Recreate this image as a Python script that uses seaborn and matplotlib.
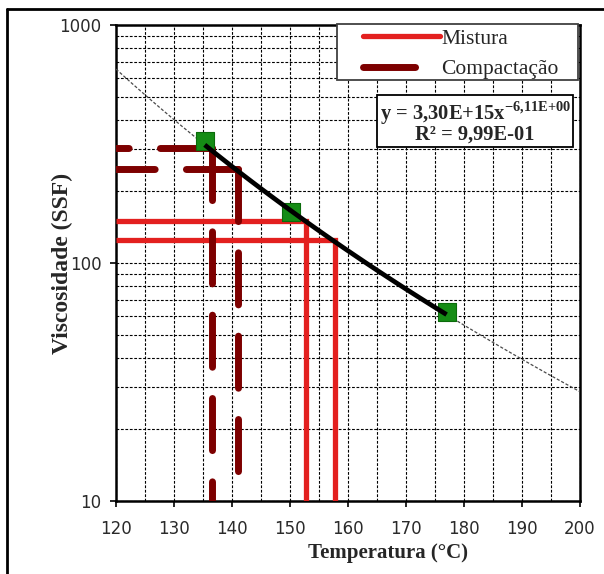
import numpy as np
import pandas as pd
import matplotlib
matplotlib.use("Agg")
import matplotlib.pyplot as plt
from matplotlib.lines import Line2D
from matplotlib.patches import Rectangle
from matplotlib.legend_handler import HandlerLine2D
from matplotlib.ticker import FixedLocator, FixedFormatter, NullFormatter
import seaborn as sns

# Viscosity measurements (Saybolt-Furol seconds) versus temperature
temperatura = [135.3, 150.2, 177.0]
viscosidade = [325, 164, 62]

# Power-law trendline  y = a * x^b
coef_a = 3.30e15
coef_b = -6.11
r_quadrado = 0.999

# Viscosity limits and the temperatures read on the curve
mistura_visc = [150, 125]
mistura_temp = [152.7, 157.7]
compact_visc = [305, 248]
compact_temp = [136.5, 141.1]

x_ticks = [120, 130, 140, 150, 160, 170, 180, 190, 200]
x_minor = [125, 135, 145, 155, 165, 175, 185, 195]
y_ticks = [10, 100, 1000]
y_labels = ["10", "100", "1000"]

RED = "#e3201f"
DARK_RED = "#7d0000"
GREEN = "#158c15"

sns.set_theme(style="white")
plt.rcParams["font.family"] = ["DejaVu Sans"]
plt.rcParams["mathtext.fontset"] = "custom"
plt.rcParams["mathtext.rm"] = "Liberation Serif"
plt.rcParams["mathtext.bf"] = "Liberation Serif:bold"

W, H = 604, 574
fig = plt.figure(figsize=(W / 100, H / 100), dpi=100)
ax = fig.add_axes([116 / W, 1 - 501 / H, 464 / W, 476 / H])

# Trendline over the whole axis (thin dashed) and over the data range (thick)
xs_full = np.linspace(120, 200, 200)
trend_full = pd.DataFrame({"T": xs_full, "V": coef_a * xs_full ** coef_b})
xs_data = np.linspace(min(temperatura), max(temperatura), 100)
trend_data = pd.DataFrame({"T": xs_data, "V": coef_a * xs_data ** coef_b})

sns.lineplot(data=trend_full, x="T", y="V", ax=ax, color="#4a4a4a", lw=0.9,
             linestyle=(0, (2.5, 1.5)), zorder=3)

# Mixing limits: solid red L-shaped guides
for v, t in zip(mistura_visc, mistura_temp):
    ax.plot([120, t, t], [v, v, 10], color=RED, lw=3.8, solid_joinstyle="miter",
            solid_capstyle="butt", zorder=4)

# Compaction limits: thick dashed dark-red guides starting at the curve
dash = (0, (7.5, 4.5))
for v, t in zip(compact_visc, compact_temp):
    ax.plot([t, 120], [v, v], color=DARK_RED, lw=5, linestyle=dash,
            dash_capstyle="round", zorder=4)
    ax.plot([t, t], [v, 10], color=DARK_RED, lw=5, linestyle=dash,
            dash_capstyle="round", zorder=4)

pts = pd.DataFrame({"T": temperatura, "V": viscosidade})
sns.scatterplot(data=pts, x="T", y="V", ax=ax, marker="s", s=13.5 ** 2,
                color=GREEN, edgecolor="#0b6b0b", linewidth=0.8, zorder=5)

sns.lineplot(data=trend_data, x="T", y="V", ax=ax, color="black", lw=3.4,
             zorder=6, solid_capstyle="butt")

ax.set_yscale("log")
ax.set_xlim(120, 200)
ax.set_ylim(10, 1000)

ax.xaxis.set_major_locator(FixedLocator(x_ticks))
ax.xaxis.set_minor_locator(FixedLocator(x_minor))
ax.yaxis.set_major_locator(FixedLocator(y_ticks))
ax.yaxis.set_major_formatter(FixedFormatter(y_labels))
minor_y = [m * d for d in (10, 100) for m in range(2, 10)]
ax.yaxis.set_minor_locator(FixedLocator(minor_y))
ax.yaxis.set_minor_formatter(NullFormatter())

ax.tick_params(which="major", direction="out", length=4.5, width=1.2,
               color="black", labelsize=12, labelcolor="#2a2a2a",
               bottom=True, left=True)
ax.tick_params(axis="x", which="major", pad=9)
ax.tick_params(axis="y", which="major", pad=6)
ax.tick_params(which="minor", length=0)

ax.set_axisbelow(True)
ax.grid(which="both", color="black", lw=0.8, linestyle=(0, (2.5, 1.5)))

for sp in ax.spines.values():
    sp.set_visible(True)
    sp.set_color("black")
    sp.set_linewidth(1.8)

ax.set_xlabel("Temperatura (°C)", family="Liberation Serif", weight="bold",
              size=15, va="center")
ax.set_ylabel("Viscosidade (SSF)", family="Liberation Serif", weight="bold",
              size=17, va="center")
ax.xaxis.set_label_coords(0.586, -0.109)
ax.yaxis.set_label_coords(-0.116, 0.5)

# Equation of the trendline
a_txt = f"{coef_a:.2E}".replace(".", ",")
b_txt = f"{coef_b:.2E}".replace(".", "{,}").replace("+", "{+}")
r_txt = f"{r_quadrado:.2E}".replace(".", ",")
eq = f"y = {a_txt}x$^{{\\mathbf{{{b_txt}}}}}$\nR² = {r_txt}"
ax.text(0.774, 0.796, eq, transform=ax.transAxes, ha="center", va="center",
        multialignment="center", family="Liberation Serif", weight="bold",
        size=14.8, linespacing=0.84, zorder=8,
        bbox=dict(boxstyle="square,pad=0.13", fc="white", ec="black", lw=1.3))

# Legend box
fig.add_artist(Rectangle((337 / W, 1 - 80 / H), 241 / W, 56 / H,
                         transform=fig.transFigure, fc="white", ec="#404040",
                         lw=1.3, zorder=9))

leg_fs = 15.5
handles = [Line2D([], [], color=RED, lw=3.8),
           Line2D([], [], color=DARK_RED, lw=5, linestyle=dash,
                  dash_capstyle="round")]
hmap = {h: HandlerLine2D(xpad=1.1) for h in handles}
leg = fig.legend(handles, ["Mistura", "Compactação"], loc="upper left",
                 bbox_to_anchor=(337 / W, 1 - 26 / H), frameon=False,
                 borderaxespad=0, borderpad=0.12, handlelength=4.68,
                 handletextpad=0.05, labelspacing=0.48, handler_map=hmap,
                 prop=dict(family="Liberation Serif", size=leg_fs))
leg.set_zorder(10)

# Cell border lines at top and left
fig.add_artist(Line2D([7 / W, 1], [1 - 9 / H, 1 - 9 / H], color="black", lw=2,
                      transform=fig.transFigure))
fig.add_artist(Line2D([7 / W, 7 / W], [0, 1 - 9 / H], color="black", lw=2,
                      transform=fig.transFigure))

fig.savefig("out.png", dpi=100)
